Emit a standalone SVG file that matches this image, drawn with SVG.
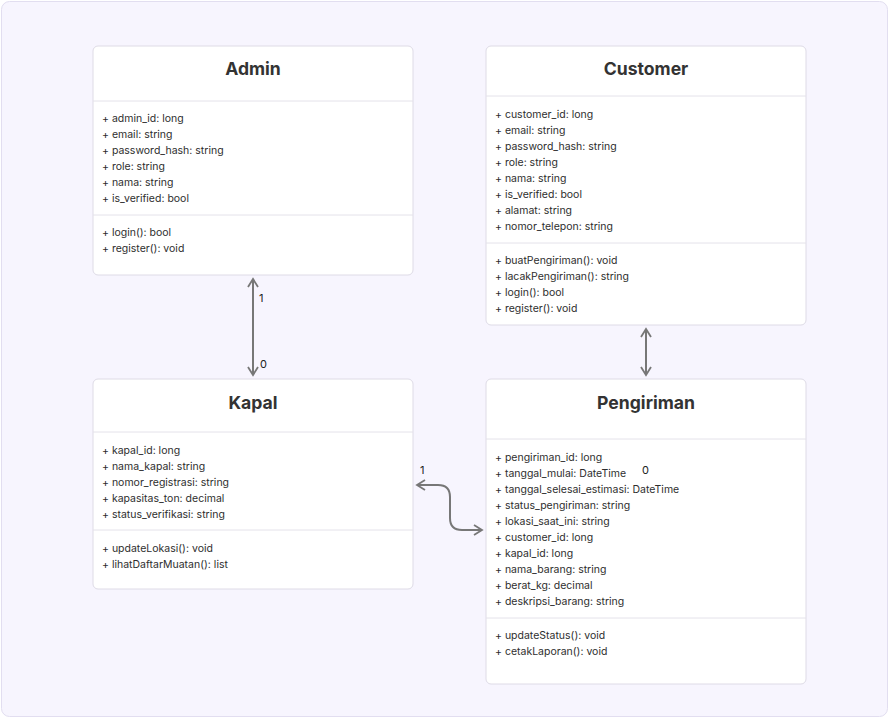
<svg xmlns="http://www.w3.org/2000/svg" width="890" height="719" viewBox="0 0 890 719">
<defs>
<style>
.box{fill:#ffffff;stroke:#dedbe6;stroke-width:1}
.sep{stroke:#e4e2ea;stroke-width:1}
.title{font-family:Inter,"Liberation Sans",sans-serif;font-size:17.6px;font-weight:700;fill:#333;text-anchor:middle}
.t{font-family:Inter,"Liberation Sans",sans-serif;font-size:10.5px;fill:#2e2e2e}
.lbl{font-family:Inter,"Liberation Sans",sans-serif;font-size:11px;fill:#222}
.edge{fill:none;stroke:#777;stroke-width:2}
</style>
<marker id="arr" viewBox="0 0 12 12" refX="10" refY="6" markerWidth="12" markerHeight="12" markerUnits="userSpaceOnUse" orient="auto-start-reverse">
<path d="M2,1 L10,6 L2,11" fill="none" stroke="#777" stroke-width="1.8"/>
</marker>
</defs>
<rect x="1.5" y="1.5" width="886" height="715" rx="8" fill="#f7f5fe" stroke="#e2def0"/>

<g id="Admin">
<rect class="box" x="93" y="46" width="320" height="229" rx="5"/>
<text class="title" x="253" y="75">Admin</text>
<line class="sep" x1="93" y1="101" x2="413" y2="101"/>
<text class="t" x="102" y="122">+ admin_id: long</text>
<text class="t" x="102" y="138">+ email: string</text>
<text class="t" x="102" y="154">+ password_hash: string</text>
<text class="t" x="102" y="170">+ role: string</text>
<text class="t" x="102" y="186">+ nama: string</text>
<text class="t" x="102" y="202">+ is_verified: bool</text>
<line class="sep" x1="93" y1="215" x2="413" y2="215"/>
<text class="t" x="102" y="236">+ login(): bool</text>
<text class="t" x="102" y="252">+ register(): void</text>
</g>

<g id="Customer">
<rect class="box" x="486" y="46" width="320" height="279" rx="5"/>
<text class="title" x="646" y="75">Customer</text>
<line class="sep" x1="486" y1="96" x2="806" y2="96"/>
<text class="t" x="495" y="118">+ customer_id: long</text>
<text class="t" x="495" y="134">+ email: string</text>
<text class="t" x="495" y="150">+ password_hash: string</text>
<text class="t" x="495" y="166">+ role: string</text>
<text class="t" x="495" y="182">+ nama: string</text>
<text class="t" x="495" y="198">+ is_verified: bool</text>
<text class="t" x="495" y="214">+ alamat: string</text>
<text class="t" x="495" y="230">+ nomor_telepon: string</text>
<line class="sep" x1="486" y1="243" x2="806" y2="243"/>
<text class="t" x="495" y="264">+ buatPengiriman(): void</text>
<text class="t" x="495" y="280">+ lacakPengiriman(): string</text>
<text class="t" x="495" y="296">+ login(): bool</text>
<text class="t" x="495" y="312">+ register(): void</text>
</g>

<g id="Kapal">
<rect class="box" x="93" y="379" width="320" height="210" rx="5"/>
<text class="title" x="253" y="409">Kapal</text>
<line class="sep" x1="93" y1="432" x2="413" y2="432"/>
<text class="t" x="102" y="454">+ kapal_id: long</text>
<text class="t" x="102" y="470">+ nama_kapal: string</text>
<text class="t" x="102" y="486">+ nomor_registrasi: string</text>
<text class="t" x="102" y="502">+ kapasitas_ton: decimal</text>
<text class="t" x="102" y="518">+ status_verifikasi: string</text>
<line class="sep" x1="93" y1="530" x2="413" y2="530"/>
<text class="t" x="102" y="552">+ updateLokasi(): void</text>
<text class="t" x="102" y="568">+ lihatDaftarMuatan(): list</text>
</g>

<g id="Pengiriman">
<rect class="box" x="486" y="379" width="320" height="305" rx="5"/>
<text class="title" x="646" y="409">Pengiriman</text>
<line class="sep" x1="486" y1="439" x2="806" y2="439"/>
<text class="t" x="495" y="461">+ pengiriman_id: long</text>
<text class="t" x="495" y="477">+ tanggal_mulai: DateTime</text>
<text class="t" x="495" y="493">+ tanggal_selesai_estimasi: DateTime</text>
<text class="t" x="495" y="509">+ status_pengiriman: string</text>
<text class="t" x="495" y="525">+ lokasi_saat_ini: string</text>
<text class="t" x="495" y="541">+ customer_id: long</text>
<text class="t" x="495" y="557">+ kapal_id: long</text>
<text class="t" x="495" y="573">+ nama_barang: string</text>
<text class="t" x="495" y="589">+ berat_kg: decimal</text>
<text class="t" x="495" y="605">+ deskripsi_barang: string</text>
<line class="sep" x1="486" y1="618" x2="806" y2="618"/>
<text class="t" x="495" y="639">+ updateStatus(): void</text>
<text class="t" x="495" y="655">+ cetakLaporan(): void</text>
</g>

<g id="connectors">
<path class="edge" d="M253,279 L253,375" marker-start="url(#arr)" marker-end="url(#arr)"/>
<text class="lbl" x="259" y="302">1</text>
<text class="lbl" x="260" y="368">0</text>
<path class="edge" d="M646,329 L646,375" marker-start="url(#arr)" marker-end="url(#arr)"/>
<path class="edge" d="M417,485 L438,485 Q450,485 450,497 L450,518 Q450,530 462,530 L482,530" marker-start="url(#arr)" marker-end="url(#arr)"/>
<text class="lbl" x="420" y="474">1</text>
<text class="lbl" x="642" y="474">0</text>
</g>
</svg>
